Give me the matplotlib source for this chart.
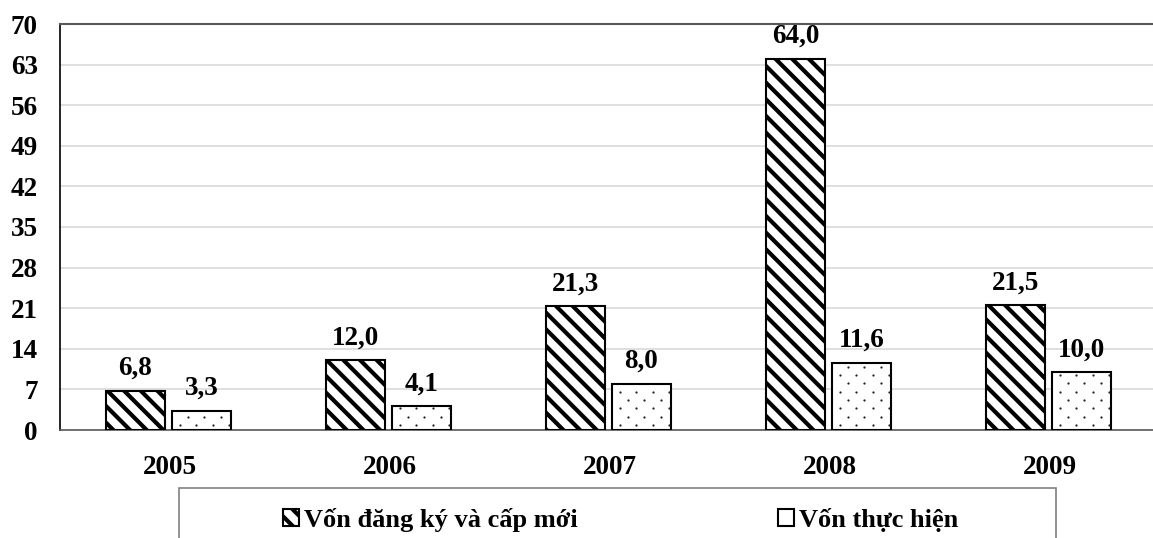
import matplotlib
matplotlib.use("Agg")
import matplotlib.pyplot as plt
import numpy as np
from matplotlib.patches import Rectangle

years = ["2005", "2006", "2007", "2008", "2009"]
registered = [6.8, 12.0, 21.3, 64.0, 21.5]
implemented = [3.3, 4.1, 8.0, 11.6, 10.0]
series_names = ["Vốn đăng ký và cấp mới", "Vốn thực hiện"]
yticks = [0, 7, 14, 21, 28, 35, 42, 49, 56, 63, 70]

plt.rcParams['font.family'] = ['Liberation Serif', 'DejaVu Serif']
plt.rcParams['font.weight'] = 'bold'
plt.rcParams['hatch.linewidth'] = 3.0

W, H = 1153, 538
fig = plt.figure(figsize=(W/100, H/100), dpi=100)
ax = fig.add_axes([60/W, 1-430/H, (1160-60)/W, (430-24)/H])

x = np.arange(len(years))
w = 0.268
b1 = ax.bar(x - 0.157, registered, w, color='white', edgecolor='black', hatch='\\\\',
            linewidth=1.5, zorder=3)
b2 = ax.bar(x + 0.143, implemented, w, color='white', edgecolor='black',
            linewidth=1.5, zorder=3)

ax.set_xlim(-0.5, 4.5)
ax.set_ylim(0, 70)

# dotted texture for the second series (staggered small dots inside each bar)
for r in b2:
    (x0, y0), (x1, y1) = ax.transData.transform([(r.get_x(), 0), (r.get_x() + r.get_width(), r.get_height())])
    pts = []
    row = 0
    yy = y0 + 5
    while yy < y1 - 2:
        start = x0 + (8 if row % 2 == 0 else 16)
        xx = start
        while xx < x1 - 2:
            pts.append((xx, yy))
            xx += 16.3
        yy += 8.3
        row += 1
    if pts:
        d = ax.transData.inverted().transform(pts)
        ax.scatter(d[:, 0], d[:, 1], s=2.6, color='#222222', linewidths=0, zorder=4, clip_on=True)

def fmt(v):
    return f"{v:.1f}".replace('.', ',')
for bars, vals in ((b1, registered), (b2, implemented)):
    for r, v in zip(bars, vals):
        ax.annotate(fmt(v), (r.get_x() + r.get_width()/2, v), xytext=(0, 7), textcoords='offset points',
                    ha='center', va='bottom', fontsize=19.5, fontweight='bold')

ax.set_yticks(yticks)
ax.set_yticklabels([str(t) for t in yticks], fontsize=19.5, fontweight='bold')
ax.set_xticks(x)
ax.set_xticklabels(years, fontsize=19.5, fontweight='bold')
ax.tick_params(axis='x', length=0, pad=18)
ax.tick_params(axis='y', length=0, pad=16)
ax.grid(axis='y', color='#d9d9d9', linewidth=1.2, zorder=0)
ax.set_axisbelow(True)
ax.spines['right'].set_visible(False)
ax.spines['left'].set_color('black')
ax.spines['left'].set_linewidth(1.2)
ax.spines['top'].set_color('#595959')
ax.spines['top'].set_linewidth(1.5)
ax.spines['bottom'].set_color('#595959')
ax.spines['bottom'].set_linewidth(1.2)

# legend frame
fig.patches.append(Rectangle((179/W, -0.05), (1056-179)/W, 0.05 + 1-488/H,
                             transform=fig.transFigure, fill=False, edgecolor='#808080', linewidth=1.2))
for handle, name, lx in ((b1, series_names[0], 283), (b2, series_names[1], 778)):
    lg = fig.legend([handle], [name], loc='center left', bbox_to_anchor=(lx/W, 1-520/H),
                    frameon=False, handlelength=0.6, handleheight=0.6, handletextpad=0.2,
                    borderpad=0, borderaxespad=0, prop={'weight': 'bold', 'size': 19})

fig.savefig("out.png", dpi=100)
